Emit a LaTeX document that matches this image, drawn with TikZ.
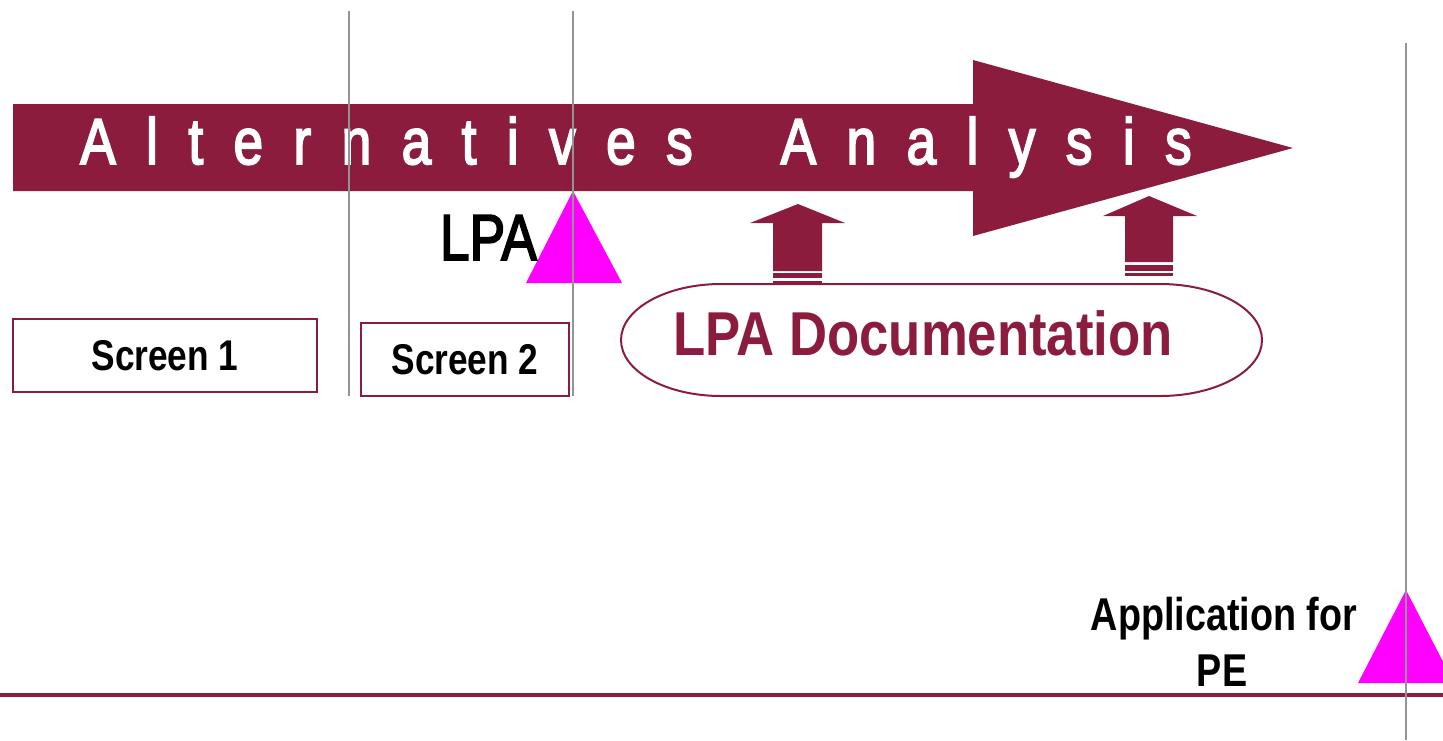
\documentclass[tikz,border=0pt]{standalone}
\usepackage{graphicx}
\usepackage{fontspec}
\setmainfont{Liberation Sans}
\newfontfamily\spacedfont[LetterSpace=57,FakeBold=3]{Liberation Sans}
\newfontfamily\plainfont[FakeBold=3]{Liberation Sans}
\usepackage{tikz}

\definecolor{wine}{RGB}{140,28,62}
\definecolor{lpamagenta}{RGB}{255,0,255}
\newcommand{\slim}[1]{\scalebox{0.82}[1]{#1}}

\begin{document}
\begin{tikzpicture}[x=1pt,y=-1pt,
            marker/.style={fill=lpamagenta},
            grid line/.style={draw=black!42,line width=2pt},
            screen box/.style={draw=wine,line width=1.5pt,minimum height=73pt,inner sep=0pt,font=\bfseries\fontsize{43}{50}\selectfont},
            label text/.style={inner sep=0pt,anchor=base},
            ]
            \useasboundingbox (0,0) rectangle (1443,740);
            
            % main arrow
            \fill[wine] (13,104) -- (973,104) -- (973,60) -- (1293,148) -- (973,236) -- (973,191) -- (13,191) -- cycle;
            \node[label text, anchor=base west, text=white] (title) at (80,164) {\slim{\spacedfont\fontsize{65}{78}\selectfont Alternatives\hspace{52pt} Analysis}};
            
            % milestones
            \fill[marker] (573,191) -- (622,283) -- (526,283) -- cycle;
            \node[label text, anchor=base east] (lpa) at (537,260) {\slim{\plainfont\fontsize{65}{78}\selectfont LPA}};
            \fill[marker] (1406,590) -- (1454,683) -- (1358,683) -- cycle;
            \node[label text] (appl) at (1224,630) {\slim{\bfseries\fontsize{46}{55}\selectfont Application for}};
            \node[label text] (pe) at (1222,686) {\slim{\bfseries\fontsize{46}{55}\selectfont PE}};
            
            % screens
            \node[screen box, minimum width=304pt] (screen1) at (165,355.5) {\slim{Screen 1}};
            \node[screen box, minimum width=208pt] (screen2) at (465,359.5) {\slim{Screen 2}};
            
            % documentation
            \draw[wine, line width=2pt] (721,284) -- (1160,284) .. controls (1216,284) and (1262,309) .. (1262,340) .. controls (1262,371) and (1216,396) .. (1160,396) -- (721,396) .. controls (666,396) and (621,371) .. (621,340) .. controls (621,309) and (666,284) .. (721,284) -- cycle;
            \node[label text, text=wine] (doc) at (923,355) {\scalebox{0.85}[1]{\bfseries\fontsize{62}{74}\selectfont LPA Documentation}};
            
            \fill[wine] (798,204) -- (845,223) -- (822,223) -- (822,271) -- (773,271) -- (773,223) -- (750,223) -- cycle;
            \fill[wine] (773,273) rectangle (822,278);
            \fill[wine] (773,281) rectangle (822,284);
            
            \fill[wine] (1149,196) -- (1197,216) -- (1173,216) -- (1173,262) -- (1125,262) -- (1125,216) -- (1103,216) -- cycle;
            \fill[wine] (1125,265) rectangle (1173,271);
            \fill[wine] (1125,273) rectangle (1173,276);
            
            % time line
            \draw[wine, line width=4pt] (0,695) -- (1443,695);
            
            \draw[grid line] (349,11) -- (349,396);
            \draw[grid line] (573,11) -- (573,396);
            \draw[grid line] (1406,43) -- (1406,740);
        \end{tikzpicture}
\end{document}
